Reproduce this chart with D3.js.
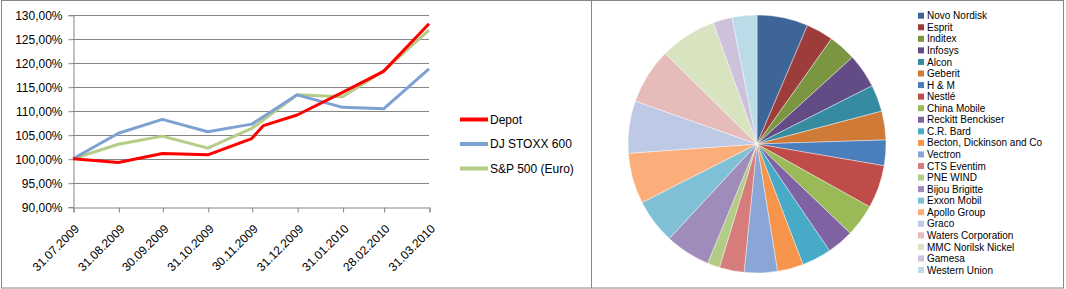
<!DOCTYPE html>
<html>
<head>
<meta charset="utf-8">
<script src="https://cdn.jsdelivr.net/npm/d3@7"></script>
<style>
  body { margin: 0; background: #fff; }
  svg text { font-family: "Liberation Sans", Arial, sans-serif; fill: #000; }
  .tick text { font-size: 12px; }
  .legend text { font-size: 12px; }
  .pieLegend text { font-size: 10px; }
</style>
</head>
<body>
<script>
// line chart data (percent, start = 100)
var dates = ['31.07.2009','31.08.2009','30.09.2009','31.10.2009','30.11.2009','31.12.2009','31.01.2010','28.02.2010','31.03.2010'];
var depotDates = ['31.07.2009','31.08.2009','30.09.2009','31.10.2009','30.11.2009','08.12.2009','31.12.2009','31.01.2010','28.02.2010','31.03.2010'];
var depot = [100, 99.2, 101.1, 100.8, 104.2, 106.9, 109.1, 113.8, 118.2, 128.1];
var stoxx = [100, 105.3, 108.2, 105.6, 107.2, 113.3, 110.7, 110.4, 118.7];
var sp500 = [100, 103.0, 104.7, 102.2, 106.3, 113.3, 112.9, 118.3, 126.8];
var seriesNames = ['Depot', 'DJ STOXX 600', 'S&P 500 (Euro)'];
var seriesColors = ['#ff0000', '#7ea1d3', '#b5cd86'];
var yTicks = [90, 95, 100, 105, 110, 115, 120, 125, 130];

// pie data (share in percent)
var holdings = ['Novo Nordisk','Esprit','Inditex','Infosys','Alcon','Geberit','H & M','Nestlé','China Mobile','Reckitt Benckiser','C.R. Bard','Becton, Dickinson and Co','Vectron','CTS Eventim','PNE WIND','Bijou Brigitte','Exxon Mobil','Apollo Group','Graco','Waters Corporation','MMC Norilsk Nickel','Gamesa','Western Union'];
var shares = [6.4, 3.4, 3.45, 4.3, 3.35, 3.6, 3.2, 5.4, 4.05, 3.35, 3.7, 3.25, 4.15, 3.1, 1.55, 5.65, 5.6, 6.35, 6.55, 7.0, 7.1, 2.4, 3.1];
var pieColors = ['#3d6597','#9c3d3b','#7b9641','#634c86','#378ba1','#d07a38','#4b7ebd','#bf4c49','#9aba57','#7e62a2','#47aac6','#f5944a',
                 '#8aa6d6','#d67d7b','#b3cc85','#a08cbb','#80c0d6','#fbad7a','#bdc9e5','#e6bcbb','#d8e4c0','#cec2db','#badbe7'];

var parse = d3.timeParse('%d.%m.%Y');

var svg = d3.select('body').append('svg')
  .attr('width', 1066).attr('height', 289);

// borders
svg.append('rect').attr('x', 1.5).attr('y', 0.5).attr('width', 1062).attr('height', 287.5)
  .attr('fill', 'none').attr('stroke', '#868686');
svg.append('line').attr('x1', 591.5).attr('x2', 591.5).attr('y1', 0).attr('y2', 288)
  .attr('stroke', '#868686');

// ---------- line chart ----------
var x = d3.scaleTime().domain([parse('31.07.2009'), parse('31.03.2010')]).range([73, 429]);
var y = d3.scaleLinear().domain([90, 130]).range([206.7, 14.7]);

svg.append('g').selectAll('line').data(yTicks.slice(1)).enter().append('line')
  .attr('x1', 73).attr('x2', 429)
  .attr('y1', function(d) { return Math.round(y(d)) + 0.5; })
  .attr('y2', function(d) { return Math.round(y(d)) + 0.5; })
  .attr('stroke', '#868686');

var yAxis = svg.append('g').attr('transform', 'translate(73.5,0.5)')
  .call(d3.axisLeft(y).tickValues(yTicks).tickSize(5).tickPadding(6)
    .tickFormat(function(d) { return d.toFixed(2).replace('.', ',') + '%'; }));
yAxis.select('.domain').attr('stroke', '#868686');
yAxis.selectAll('.tick line').attr('stroke', '#868686');

var xAxis = svg.append('g').attr('transform', 'translate(0.5,207.5)')
  .call(d3.axisBottom(x).tickValues(dates.map(parse)).tickSize(5)
    .tickFormat(d3.timeFormat('%d.%m.%Y')));
xAxis.select('.domain').attr('stroke', '#868686');
xAxis.selectAll('.tick line').attr('stroke', '#868686');
xAxis.selectAll('.tick text')
  .attr('text-anchor', 'end')
  .attr('dy', 0).attr('y', 0)
  .attr('transform', 'translate(6,22) rotate(-45)');

var line = d3.line()
  .x(function(d) { return x(d[0]); })
  .y(function(d) { return y(d[1]); });

var seriesData = [
  depotDates.map(function(d, i) { return [parse(d), depot[i]]; }),
  dates.map(function(d, i) { return [parse(d), stoxx[i]]; }),
  dates.map(function(d, i) { return [parse(d), sp500[i]]; })
];
[2, 1, 0].forEach(function(i) {
  svg.append('path').datum(seriesData[i])
    .attr('d', line)
    .attr('fill', 'none')
    .attr('stroke', seriesColors[i])
    .attr('stroke-width', 3)
    .attr('stroke-linejoin', 'round');
});

var legend = svg.append('g').attr('class', 'legend');
seriesNames.forEach(function(n, i) {
  var ly = 119.5 + i * 24.5;
  legend.append('line').attr('x1', 460).attr('x2', 488).attr('y1', ly).attr('y2', ly)
    .attr('stroke', seriesColors[i]).attr('stroke-width', 4);
  legend.append('text').attr('x', 490).attr('y', ly + 4).text(n);
});

// ---------- pie chart ----------
var pie = d3.pie().sort(null).value(function(d) { return d; });
var arc = d3.arc().innerRadius(0).outerRadius(129);

svg.append('g').attr('transform', 'translate(757,144)')
  .selectAll('path').data(pie(shares)).enter().append('path')
  .attr('d', arc)
  .attr('fill', function(d, i) { return pieColors[i]; })
  .attr('stroke', '#ffffff').attr('stroke-width', 0.4);

var pl = svg.append('g').attr('class', 'pieLegend');
holdings.forEach(function(h, i) {
  var ry = 15.7 + i * 11.56;
  pl.append('rect').attr('x', 918).attr('y', ry - 3).attr('width', 6).attr('height', 6)
    .attr('fill', pieColors[i]);
  pl.append('text').attr('x', 927).attr('y', ry + 3.6).text(h);
});
</script>
</body>
</html>
